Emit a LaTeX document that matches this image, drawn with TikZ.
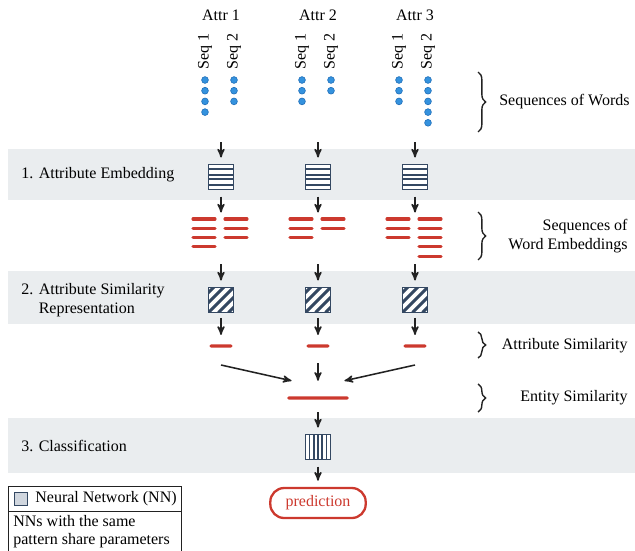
\documentclass[tikz,border=0pt]{standalone}
\usepackage{fontspec}
\setmainfont{Liberation Serif}
\usepackage{xcolor}
\definecolor{colorBand}{RGB}{234,237,239}
\definecolor{colorNN}{RGB}{52,72,98}
\definecolor{colorLegend}{RGB}{208,214,222}
\definecolor{colorEmb}{RGB}{204,57,46}
\definecolor{colorWord}{RGB}{52,146,222}
\definecolor{colorWordDraw}{RGB}{34,112,186}
\definecolor{colorArrow}{RGB}{34,34,34}
\usetikzlibrary{arrows, positioning, decorations.pathreplacing}
\tikzset{
  nnBox/.style={draw=colorNN, line width=1.1pt, fill=white, minimum size=16.25pt, inner sep=0pt},
  stripesH/.style={nnBox, path picture={\foreach \d in {-4.9,-1.6,1.6,4.9} \draw[colorNN, line width=1.3pt] ([yshift=\d pt]path picture bounding box.west) -- ([yshift=\d pt]path picture bounding box.east);}},
  stripesV/.style={nnBox, path picture={\foreach \d in {-5.4,-2.7,0,2.7,5.4} \draw[colorNN, line width=1pt] ([xshift=\d pt]path picture bounding box.north) -- ([xshift=\d pt]path picture bounding box.south);}},
  stripesD/.style={nnBox, path picture={\foreach \d in {-19.5,-13,...,19.5} \draw[colorNN, line width=2pt] ([xshift=\d pt]path picture bounding box.south west) -- ++(20pt,20pt);}},
  word/.style={circle, fill=colorWord, draw=colorWordDraw, line width=0.4pt, minimum size=4.4pt, inner sep=0pt},
  embLine/.style={colorEmb, line width=2pt, line cap=round},
  attrLine/.style={fill=colorEmb, rounded corners=1pt, minimum width=15pt, minimum height=2pt, inner sep=0pt},
  entLine/.style={attrLine, minimum width=40pt},
  flow/.style={->, colorArrow, line width=1pt},
  brace/.style={decorate, decoration={brace, amplitude=5pt}, line width=0.9pt, colorArrow},
  predBox/.style={draw=colorEmb, text=colorEmb, line width=1.5pt, rounded corners=9pt, minimum width=62pt, minimum height=19.5pt}
}

\begin{document}
\begin{tikzpicture}[x=0.65pt, y=-0.65pt, >=stealth', font=\fontsize{10.4}{12}\selectfont]
\useasboundingbox (0,0) rectangle (635,550);
\fill[colorBand] (8,149) rectangle (635,200);
\fill[colorBand] (8,271) rectangle (635,324);
\fill[colorBand] (8,418) rectangle (635,473);

\node[anchor=west] (stage1) at (16,175) {1. Attribute Embedding};
\node[anchor=west, align=left] (stage2) at (16,300) {2. Attribute Similarity\\\phantom{2. }Representation};
\node[anchor=west] (stage3) at (16,446) {3. Classification};

\foreach \c/\a/\b/\n in {221/4/3/1, 318/3/2/2, 415/3/5/3} {
  \node (attr\n) at (\c,15) {Attr \n};
  \node[rotate=90] (seqA\n) at (\c-16,51) {Seq 1};
  \node[rotate=90] (seqB\n) at (\c+13,51) {Seq 2};
  \foreach \k in {1,...,\a} \node[word] (wordA\n\k) at (\c-16,69.3+10.7*\k) {};
  \foreach \k in {1,...,\b} \node[word] (wordB\n\k) at (\c+13,69.3+10.7*\k) {};
  \coordinate (in\n) at (\c,142);
  \node[stripesH] (emb\n) at (\c,177) {};
  \foreach \k in {1,...,\a} \draw[embLine] (\c-28,209.7+9.3*\k) -- (\c-6,209.7+9.3*\k);
  \foreach \k in {1,...,\b} \draw[embLine] (\c+4,209.7+9.3*\k) -- (\c+26,209.7+9.3*\k);
  \coordinate (vec\n) at (\c,264);
  \node[stripesD] (sim\n) at (\c,300) {};
  \node[attrLine] (as\n) at (\c,346) {};
  \coordinate (src\n) at (\c,365);
  \draw[flow] (in\n) -- ([yshift=4pt]emb\n.north);
  \draw[flow] ([yshift=-4pt]emb\n.south) -- ++(0,16);
  \draw[flow] (vec\n) -- ([yshift=4pt]sim\n.north);
  \draw[flow] ([yshift=-3pt]sim\n.south) -- ([yshift=6pt]as\n.north);
}

\node[entLine] (ent) at (318,398) {};
\draw[flow] (src1) -- ([xshift=3pt,yshift=10pt]ent.north west);
\draw[flow] ([yshift=1pt]src2) -- ([yshift=10pt]ent.north);
\draw[flow] (src3) -- ([xshift=-3pt,yshift=10pt]ent.north east);

\node[stripesV] (cls) at (318,447) {};
\node[predBox] (pred) at (318,503) {prediction};
\draw[flow] ([yshift=-8pt]ent.south) -- ([yshift=4pt]cls.north);
\draw[flow] ([yshift=-4pt]cls.south) -- ([yshift=4pt]pred.north);

\draw[brace] (478,72) -- (478,132);
\node[anchor=east] (words) at (635,102) {Sequences of Words};
\draw[brace] (478,212) -- (478,260);
\node[anchor=east, align=right] (embs) at (633,236) {Sequences of\\Word Embeddings};
\draw[brace] (478,332) -- (478,358);
\node[anchor=east] (attrsim) at (633,346) {Attribute Similarity};
\draw[brace] (478,384) -- (478,412);
\node[anchor=east] (entsim) at (633,398) {Entity Similarity};

\draw[colorArrow, line width=0.6pt] (8,556) |- (181,486) -- (181,556);
\draw[colorArrow, line width=0.6pt] (8,511) -- (181,511);
\node[draw=colorNN, fill=colorLegend, line width=0.6pt, minimum size=9pt, inner sep=0pt] (legBox) at (21,499) {};
\node[right=1pt of legBox] (legNN) {Neural Network (NN)};
\node[anchor=north west, align=left, inner sep=2pt] (legShare) at (10,512) {NNs with the same\\pattern share parameters};
\end{tikzpicture}
\end{document}
